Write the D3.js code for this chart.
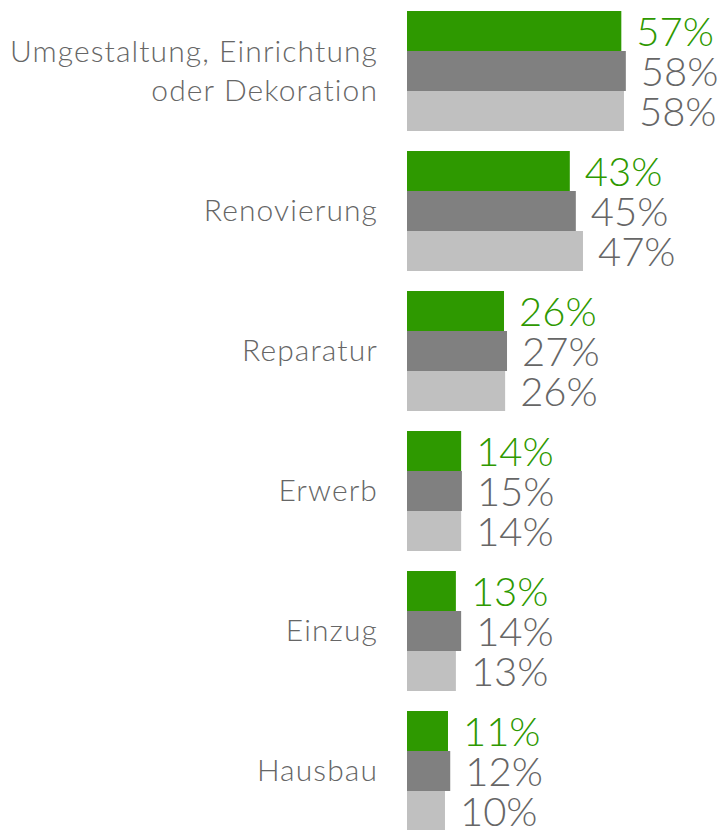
<!DOCTYPE html>
<html>
<head>
<meta charset="utf-8">
<script src="https://cdn.jsdelivr.net/npm/d3@7"></script>
<style>
  body { margin: 0; background: #fff; }
  svg { display: block; }
</style>
</head>
<body>
<svg id="chart"></svg>
<script>
const width = 724;
const height = 830;

// categories, top to bottom
const categories = [
  ["Umgestaltung, Einrichtung", "oder Dekoration"],
  ["Renovierung"],
  ["Reparatur"],
  ["Erwerb"],
  ["Einzug"],
  ["Hausbau"]
];
const seriesNames = ["s1", "s2", "s3"];
const seriesColors = ["#2e9900", "#808080", "#c0c0c0"];
const labelColors = ["#2e9900", "#666666", "#666666"];

// values per series, in category order (percent)
const greenValues = [57.0, 43.3, 25.8, 14.4, 13.0, 10.9];
const darkValues = [58.2, 44.9, 26.6, 14.6, 14.4, 11.5];
const lightValues = [57.7, 46.8, 26.1, 14.4, 13.0, 10.1];
const seriesValues = [greenValues, darkValues, lightValues];

let svg = d3.select("#chart").attr("width", width).attr("height", height);

const catKeys = categories.map((c, i) => i);

const y = d3.scaleBand().domain(catKeys).range([11, 831]).paddingInner(1 / 7);
const ySub = d3.scaleBand().domain(seriesNames).range([0, y.bandwidth()]);
const x = d3.scaleLinear().domain([0, 100]).range([407, 407 + 376]);

const rows = [];
catKeys.forEach(ci => {
  seriesNames.forEach((s, si) => {
    rows.push({ ci: ci, si: si, s: s, value: seriesValues[si][ci] });
  });
});

// bars
svg.append("g")
  .selectAll("rect")
  .data(rows)
  .join("rect")
  .attr("x", x(0))
  .attr("y", d => y(d.ci) + ySub(d.s))
  .attr("width", d => x(d.value) - x(0))
  .attr("height", ySub.bandwidth())
  .attr("fill", d => seriesColors[d.si]);

// value labels
svg.append("g")
  .selectAll("text")
  .data(rows)
  .join("text")
  .attr("x", d => x(d.value) + 15)
  .attr("y", d => y(d.ci) + ySub(d.s) + ySub.bandwidth() / 2 + 15)
  .attr("fill", d => labelColors[d.si])
  .style("font-family", "Lato, sans-serif")
  .style("font-weight", 300)
  .style("font-size", "40px")
  .text(d => Math.round(d.value) + "%");

// category labels
const catLabels = svg.append("g")
  .selectAll("text")
  .data(catKeys)
  .join("text")
  .attr("text-anchor", "end")
  .attr("fill", "#666666")
  .style("font-family", "Lato, sans-serif")
  .style("font-weight", 300)
  .style("font-size", "30px")
  .style("letter-spacing", "1.1px")
  .attr("y", ci => y(ci) + y.bandwidth() / 2 + 10 - (categories[ci].length - 1) * 19);

catLabels.selectAll("tspan")
  .data(ci => categories[ci])
  .join("tspan")
  .attr("x", 378)
  .attr("dy", (d, i) => (i === 0 ? 0 : 39))
  .text(d => d);
</script>
</body>
</html>
